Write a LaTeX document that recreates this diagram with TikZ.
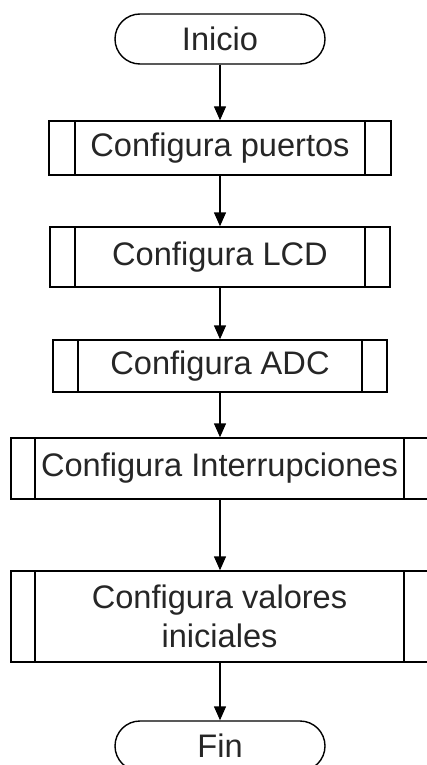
\documentclass[tikz,border=0pt]{standalone}
\usepackage{fontspec}
\setmainfont{Liberation Sans}
\usetikzlibrary{arrows.meta}
\begin{document}
\begin{tikzpicture}[x=1pt,y=-1pt,
  line width=1.4pt,
  txt/.style={font=\fontsize{32.6}{39}\selectfont, text=black!85},
  terminal/.style={txt, draw, rounded corners=25pt, minimum width=210pt,
    minimum height=50pt, inner sep=0pt},
  subproc/.style={txt, draw, rectangle, inner sep=0pt, align=center,
    path picture={
      \draw[line width=1.2pt]
        ([xshift=#1]path picture bounding box.north west) --
        ([xshift=#1]path picture bounding box.south west)
        ([xshift=-#1]path picture bounding box.north east) --
        ([xshift=-#1]path picture bounding box.south east);}},
  flow/.style={-{Triangle[length=14pt,width=12pt]}}
]
\path[use as bounding box, clip] (0,0) rectangle (427,765);

\node[terminal] (ini) at (220,39) {Inicio};
\node[subproc=26pt, minimum width=342pt, minimum height=54pt] (pto) at (220,148) {Configura puertos};
\node[subproc=25pt, minimum width=340pt, minimum height=60pt] (lcd) at (220,257) {Configura LCD};
\node[subproc=25pt, minimum width=334pt, minimum height=52pt] (adc) at (220,366) {Configura ADC};
\node[subproc=24pt, minimum width=417pt, minimum height=61pt] (itr) at (219.5,468.5) {Configura Interrupciones};
\node[subproc=24pt, minimum width=417pt, minimum height=91pt] (val) at (219.5,616.5) {Configura valores\\iniciales};
\node[terminal] (fin) at (220,746) {Fin};

\draw[flow] (ini) -- (pto);
\draw[flow] (pto) -- (lcd);
\draw[flow] (lcd) -- (adc);
\draw[flow] (adc) -- (itr.north -| adc.south);
\draw[flow] (itr.south -| adc.south) -- (val.north -| adc.south);
\draw[flow] (val.south -| adc.south) -- (fin);
\end{tikzpicture}
\end{document}
